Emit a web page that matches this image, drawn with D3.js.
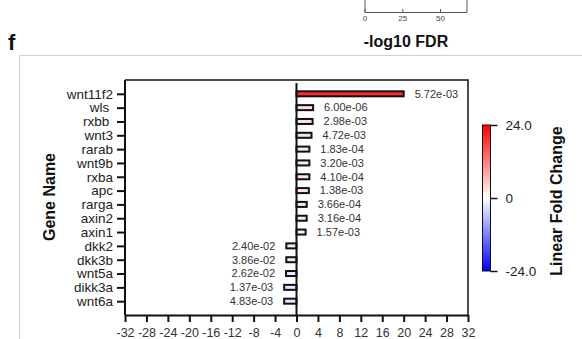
<!DOCTYPE html>
<html>
<head>
<meta charset="utf-8">
<script src="https://cdn.jsdelivr.net/npm/d3@7"></script>
<style>
  html, body { margin: 0; padding: 0; background: #fff; }
  svg { display: block; }
  text { font-family: "Liberation Sans", Arial, sans-serif; }
</style>
</head>
<body>
<svg id="chart" width="582" height="339"></svg>
<script>
// Gene names, top to bottom (trailing spaces are part of the labels)
const genes = ["wnt11f2", "wls ", "rxbb ", "wnt3", "rarab", "wnt9b", "rxba", "apc",
               "rarga", "axin2", "axin1", "dkk2", "dkk3b", "wnt5a", "dikk3a", "wnt6a"];
// Linear fold change per gene
const foldChange = [20.0, 3.1, 3.0, 2.8, 2.4, 2.4, 2.4, 2.3,
                    1.9, 1.9, 1.7, -1.9, -1.9, -1.95, -2.3, -2.3];
// FDR for each gene, printed next to its bar
const fdrLabels = ["5.72e-03", "6.00e-06", "2.98e-03", "4.72e-03", "1.83e-04", "3.20e-03",
                   "4.10e-04", "1.38e-03", "3.66e-04", "3.16e-04", "1.57e-03",
                   "2.40e-02", "3.86e-02", "2.62e-02", "1.37e-03", "4.83e-03"];
// Axis ticks
const xTicks = [-32, -28, -24, -20, -16, -12, -8, -4, 0, 4, 8, 12, 16, 20, 24, 28, 32];
const colorTicks = [24, 0, -24];
const colorTickLabels = ["24.0", "0", "-24.0"];
// Neighbouring panel (-log10 FDR axis)
const fdrAxisTicks = [0, 25, 50];

const svg = d3.select("#chart");

// ---- neighbouring panel fragment at the top ----
const xTop = d3.scaleLinear().domain([0, 67.5]).range([365, 467]);
const topG = svg.append("g");
topG.append("path")
  .attr("d", `M${xTop(0)},0 V12.5 H${xTop(67.5)} V0`)
  .attr("fill", "none").attr("stroke", "#555").attr("stroke-width", 1);
topG.selectAll("line.tk").data(fdrAxisTicks).join("line")
  .attr("x1", d => xTop(d)).attr("x2", d => xTop(d))
  .attr("y1", 12.5).attr("y2", 9)
  .attr("stroke", "#555").attr("stroke-width", 1);
topG.selectAll("text.tk").data(fdrAxisTicks).join("text")
  .attr("x", d => xTop(d)).attr("y", 21)
  .attr("text-anchor", "middle").attr("font-size", 8).attr("fill", "#444")
  .text(d => d);
topG.append("text")
  .attr("x", 406).attr("y", 47)
  .attr("text-anchor", "middle").attr("font-size", 16).attr("font-weight", "bold")
  .attr("fill", "#111").text("-log10 FDR");

// panel letter
svg.append("text").attr("x", 8).attr("y", 50)
  .attr("font-size", 22).attr("font-weight", "bold").attr("fill", "#111").text("f");

// light panel border
svg.append("path").attr("d", "M19.5,339 V55.5 H582")
  .attr("fill", "none").attr("stroke", "#cfcfcf").attr("stroke-width", 1);

// ---- main bar chart ----
const x = d3.scaleLinear().domain([-32, 32]).range([125, 468]);
const y = d3.scalePoint().domain(genes).range([80, 315]).padding(1);
const color = d3.scaleLinear().domain([-24, 0, 24]).range(["#0000ff", "#ffffff", "#ff0000"]);

const data = genes.map((g, i) => ({ gene: g, fc: foldChange[i], fdr: fdrLabels[i] }));

// frame (top and right)
svg.append("path").attr("d", `M${x(-32)},80 H${x(32)} V315`)
  .attr("fill", "none").attr("stroke", "#111").attr("stroke-width", 1.5);

// x axis
const xAxis = svg.append("g").attr("transform", "translate(0,315)")
  .call(d3.axisBottom(x).tickValues(xTicks).tickSize(7).tickSizeOuter(0).tickPadding(6)
    .tickFormat(d => String(d)));
xAxis.select(".domain").attr("stroke", "#111").attr("stroke-width", 2);
xAxis.selectAll(".tick line").attr("stroke", "#111").attr("stroke-width", 2);
xAxis.selectAll(".tick text").attr("font-size", 12.5).attr("fill", "#333")
  .attr("font-family", "Liberation Sans, Arial, sans-serif");

// y axis
const yAxis = svg.append("g").attr("transform", `translate(${x(-32)},0)`)
  .call(d3.axisLeft(y).tickSize(8).tickSizeOuter(0).tickPadding(4));
yAxis.select(".domain").attr("d", `M0,80V315`).attr("stroke", "#111").attr("stroke-width", 2);
yAxis.selectAll(".tick line").attr("stroke", "#111").attr("stroke-width", 2);
yAxis.selectAll(".tick text").attr("font-size", 13.5).attr("fill", "#222")
  .attr("font-family", "Liberation Sans, Arial, sans-serif")
  .style("white-space", "pre");

// axis titles
svg.append("text")
  .attr("transform", "translate(55,197) rotate(-90)")
  .attr("text-anchor", "middle").attr("font-size", 16).attr("font-weight", "bold")
  .attr("fill", "#111").text("Gene Name");

// bars
const barH = 5;
svg.append("g").selectAll("rect").data(data).join("rect")
  .attr("x", d => x(Math.min(0, d.fc)))
  .attr("y", d => y(d.gene) - barH / 2)
  .attr("width", d => Math.abs(x(d.fc) - x(0)))
  .attr("height", barH)
  .attr("fill", d => color(d.fc))
  .attr("stroke", "#111").attr("stroke-width", 2);

// zero line
svg.append("line").attr("x1", x(0)).attr("x2", x(0)).attr("y1", 83).attr("y2", 315)
  .attr("stroke", "#111").attr("stroke-width", 2);

// FDR labels
svg.append("g").selectAll("text").data(data).join("text")
  .attr("x", d => d.fc >= 0 ? x(d.fc) + 11 : x(d.fc) - 11)
  .attr("y", d => y(d.gene))
  .attr("dy", "0.35em")
  .attr("text-anchor", d => d.fc >= 0 ? "start" : "end")
  .attr("font-size", 11).attr("fill", "#333")
  .text(d => d.fdr);

// ---- colour bar ----
const cTop = 125, cBot = 271, cX = 482.5, cW = 8;
const cScale = d3.scaleLinear().domain([24, -24]).range([cTop, cBot]);
const defs = svg.append("defs");
const grad = defs.append("linearGradient").attr("id", "fcGrad")
  .attr("x1", 0).attr("y1", 0).attr("x2", 0).attr("y2", 1);
d3.range(0, 1.0001, 0.1).forEach(t => {
  grad.append("stop").attr("offset", t).attr("stop-color", color(24 - 48 * t));
});
svg.append("rect").attr("x", cX).attr("y", cTop).attr("width", cW).attr("height", cBot - cTop)
  .attr("fill", "url(#fcGrad)").attr("stroke", "#111").attr("stroke-width", 1);
const cAxis = svg.append("g").attr("transform", `translate(${cX + cW},0)`)
  .call(d3.axisRight(cScale).tickValues(colorTicks).tickSize(7).tickSizeOuter(0).tickPadding(8)
    .tickFormat((d, i) => colorTickLabels[i]));
cAxis.select(".domain").remove();
cAxis.selectAll(".tick line").attr("stroke", "#111").attr("stroke-width", 1.5);
cAxis.selectAll(".tick text").attr("font-size", 13.5).attr("fill", "#222")
  .attr("font-family", "DejaVu Sans, sans-serif");

svg.append("text")
  .attr("transform", "translate(562,201) rotate(-90)")
  .attr("text-anchor", "middle").attr("font-size", 16).attr("font-weight", "bold")
  .attr("fill", "#111").text("Linear Fold Change");
</script>
</body>
</html>
